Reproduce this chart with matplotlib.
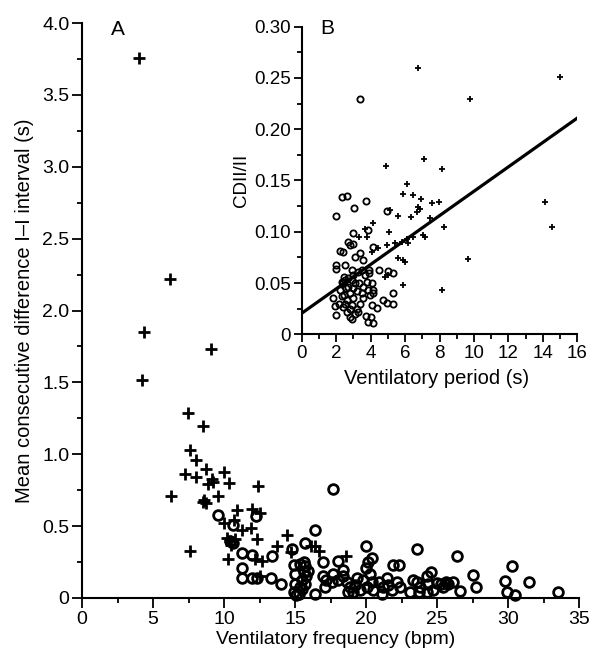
import numpy as np
import matplotlib
matplotlib.use("Agg")
import matplotlib.pyplot as plt
from matplotlib.ticker import MultipleLocator

plt.rcParams["font.family"] = ["Liberation Sans", "DejaVu Sans"]

# panel A: ventilatory frequency (bpm) vs mean consecutive difference (s)
freq_plus = [4.0, 6.2, 4.34, 9.06, 4.2, 7.44, 8.55, 7.58, 8.0, 7.28, 8.03, 8.73,
             10.0, 9.13, 9.22, 8.9, 10.33, 12.42, 6.27, 9.6, 8.55, 8.7, 8.62,
             10.9, 12.0, 12.56, 10.0, 10.7, 11.88, 11.27, 10.19, 10.45, 10.75,
             10.5, 12.35, 14.44, 7.6, 13.7, 14.7, 10.26, 12.2, 12.65, 12.56,
             16.1, 16.4, 16.7, 18.6]
mcd_plus = [3.76, 2.22, 1.85, 1.73, 1.52, 1.29, 1.20, 1.03, 0.96, 0.86, 0.84, 0.90,
            0.88, 0.83, 0.81, 0.79, 0.80, 0.78, 0.71, 0.71, 0.67, 0.66, 0.68,
            0.61, 0.62, 0.59, 0.52, 0.54, 0.49, 0.47, 0.42, 0.40, 0.41,
            0.37, 0.41, 0.44, 0.33, 0.36, 0.32, 0.27, 0.27, 0.26, 0.15,
            0.36, 0.36, 0.33, 0.29]

freq_circ = [9.55, 10.6, 10.4, 10.6, 12.25, 11.3, 12.0, 11.3, 11.3, 12.0, 12.3, 13.3,
             14.0, 13.4, 14.8, 15.7, 16.4, 17.7,
             14.9, 15.0, 15.0, 14.9, 15.1, 15.35, 15.6, 15.7, 15.6, 15.8, 15.5,
             15.35, 15.5, 15.7, 15.9, 15.3, 16.4,
             16.95, 17.0, 17.2, 17.1, 18.0, 17.7, 17.6, 18.05, 18.4, 18.36, 18.64,
             18.87, 18.75, 19.34, 19.2, 19.1, 19.6, 19.8, 20.05, 20.3, 20.4, 20.5,
             20.9, 21.1, 21.2, 21.5, 21.57, 21.8, 22.16, 22.4, 23.1, 23.3, 23.6,
             23.8, 23.7, 24.3, 24.4, 24.7, 25.0, 25.3, 25.6, 25.8, 26.15, 25.45,
             20.0, 20.4, 20.16, 20.0, 21.9, 22.3, 23.6, 26.4, 24.6, 24.3, 27.5,
             27.75, 26.6, 29.8, 30.3, 31.5, 29.9, 30.5, 33.5]
mcd_circ = [0.58, 0.51, 0.40, 0.38, 0.57, 0.31, 0.30, 0.21, 0.14, 0.14, 0.14, 0.14,
            0.10, 0.29, 0.34, 0.38, 0.47, 0.76,
            0.23, 0.17, 0.10, 0.04, 0.02, 0.24, 0.25, 0.22, 0.18, 0.15, 0.125,
            0.08, 0.06, 0.10, 0.19, 0.03, 0.03,
            0.25, 0.15, 0.125, 0.08, 0.26, 0.17, 0.11, 0.125, 0.195, 0.15, 0.11,
            0.08, 0.044, 0.137, 0.09, 0.044, 0.056, 0.125, 0.08, 0.17, 0.11, 0.056,
            0.11, 0.03, 0.08, 0.137, 0.09, 0.056, 0.11, 0.08, 0.044, 0.125, 0.11,
            0.08, 0.044, 0.044, 0.10, 0.056, 0.107, 0.10, 0.113, 0.097, 0.113, 0.08,
            0.36, 0.28, 0.25, 0.21, 0.23, 0.23, 0.34, 0.29, 0.18, 0.15, 0.16,
            0.08, 0.05, 0.12, 0.22, 0.11, 0.04, 0.02, 0.04]

# panel B: ventilatory period (s) vs CDII/II
period_plus = [6.75, 9.77, 15.0, 4.9, 7.1, 8.17, 6.1, 5.9, 6.48, 5.13, 5.61, 6.33,
               6.93, 6.77, 6.87, 6.68, 7.55, 7.99, 7.45, 8.26, 7.03, 7.16, 5.09,
               4.93, 4.45, 5.42, 5.81, 6.1, 6.19, 6.45, 4.16, 3.77, 3.35, 3.68,
               4.06, 5.61, 5.9, 6.0, 4.84, 5.03, 5.9, 8.13, 9.67, 14.13, 14.55]
cdii_plus = [0.26, 0.229, 0.251, 0.164, 0.171, 0.161, 0.147, 0.137, 0.136, 0.121,
             0.115, 0.114, 0.132, 0.124, 0.122, 0.119, 0.128, 0.129, 0.113, 0.105,
             0.097, 0.095, 0.100, 0.087, 0.084, 0.089, 0.090, 0.093, 0.089, 0.095,
             0.109, 0.095, 0.095, 0.103, 0.080, 0.074, 0.072, 0.071, 0.056, 0.058,
             0.048, 0.043, 0.073, 0.129, 0.105]

period_circ = [3.39, 1.99, 2.32, 2.61, 3.05, 3.73, 3.0, 2.71, 2.8, 3.0, 3.83, 2.22,
               2.42, 3.39, 3.1, 3.58, 2.51, 1.99, 1.99, 4.16, 3.93, 3.93, 4.51,
               5.03, 5.32, 4.93, 5.32, 4.74, 4.93, 5.32, 4.06, 4.35, 3.73, 4.0,
               3.87, 4.16, 2.9, 1.99, 1.93, 1.8,
               2.22, 2.42, 2.51, 2.71, 2.8, 2.61, 2.9, 3.1, 3.19, 3.0, 2.9, 3.19,
               3.39, 3.48, 3.58, 3.77, 3.87, 3.97, 4.06, 2.42, 2.61, 3.1, 2.8, 3.29,
               3.58, 2.32, 2.18, 2.46, 4.16, 4.12, 3.29, 3.48, 2.9, 2.46, 2.32,
               2.6, 2.7, 3.0, 3.3, 2.5, 2.8, 3.0, 3.7]
cdii_circ = [0.229, 0.115, 0.134, 0.135, 0.123, 0.130, 0.099, 0.090, 0.087, 0.088,
             0.102, 0.081, 0.080, 0.079, 0.075, 0.072, 0.068, 0.068, 0.064, 0.085,
             0.063, 0.060, 0.063, 0.062, 0.060, 0.120, 0.040, 0.033, 0.031, 0.030,
             0.029, 0.026, 0.018, 0.017, 0.012, 0.011, 0.015, 0.019, 0.028, 0.035,
             0.043, 0.050, 0.053, 0.046, 0.040, 0.033, 0.053, 0.050, 0.042, 0.035,
             0.029, 0.025, 0.030, 0.040, 0.046, 0.051, 0.043, 0.038, 0.050, 0.027,
             0.022, 0.020, 0.017, 0.022, 0.035, 0.037, 0.030, 0.038, 0.043, 0.040,
             0.061, 0.063, 0.063, 0.056, 0.051,
             0.045, 0.055, 0.045, 0.050, 0.030, 0.025, 0.058, 0.058]

# regression line
fit_intercept = 0.0205
fit_slope = 0.0119

freq_ticks = [0, 5, 10, 15, 20, 25, 30, 35]
freq_ticklabels = ["0", "5", "10", "15", "20", "25", "30", "35"]
mcd_ticks = [0, 0.5, 1.0, 1.5, 2.0, 2.5, 3.0, 3.5, 4.0]
mcd_ticklabels = ["0", "0.5", "1.0", "1.5", "2.0", "2.5", "3.0", "3.5", "4.0"]
period_ticks = [0, 2, 4, 6, 8, 10, 12, 14, 16]
period_ticklabels = ["0", "2", "4", "6", "8", "10", "12", "14", "16"]
cdii_ticks = [0, 0.05, 0.10, 0.15, 0.20, 0.25, 0.30]
cdii_ticklabels = ["0", "0.05", "0.10", "0.15", "0.20", "0.25", "0.30"]


def style_axes(ax, labelsize, major_len, minor_len):
    for side in ("top", "right"):
        ax.spines[side].set_visible(False)
    for side in ("left", "bottom"):
        ax.spines[side].set_linewidth(1.5)
    ax.tick_params(which="both", direction="out", width=1.3, pad=2,
                   labelsize=labelsize)
    ax.tick_params(which="major", length=major_len)
    ax.tick_params(which="minor", length=minor_len)


fig = plt.figure(figsize=(5.91, 6.49), dpi=100)

# main panel
ax = fig.add_axes([82 / 591, 51 / 649, 497 / 591, 575 / 649])
ax.plot(freq_plus, mcd_plus, linestyle="none", marker="+", markersize=8,
        markeredgewidth=2.0, color="black", clip_on=False)
ax.plot(freq_circ, mcd_circ, linestyle="none", marker="o", markersize=7,
        markerfacecolor="none", markeredgewidth=2.0, color="black", clip_on=False)
ax.set_xlim(0, 35)
ax.set_ylim(0, 4.0)
ax.set_xticks(freq_ticks, freq_ticklabels)
ax.set_yticks(mcd_ticks, mcd_ticklabels)
ax.xaxis.set_minor_locator(MultipleLocator(2.5))
ax.yaxis.set_minor_locator(MultipleLocator(0.25))
style_axes(ax, 14, 7, 3.5)
ax.set_xlabel("Ventilatory frequency (bpm)", fontsize=14, va="baseline")
ax.xaxis.set_label_coords(0.51, -0.080)
ax.set_ylabel("Mean consecutive difference I\u2013I interval (s)", fontsize=14.5,
              labelpad=6)
ax.text(0.072, 0.988, "A", transform=ax.transAxes, fontsize=15,
        ha="center", va="center")

# inset panel
ax_in = fig.add_axes([301.7 / 591, (649 - 334.3) / 649, 275.6 / 591, 307.6 / 649])
ax_in.patch.set_alpha(0)
ax_in.plot(period_plus, cdii_plus, linestyle="none", marker="+", markersize=5,
           markeredgewidth=1.3, color="black")
ax_in.plot(period_circ, cdii_circ, linestyle="none", marker="o", markersize=4.5,
           markerfacecolor="none", markeredgewidth=1.3, color="black")
ax_in.axline((0, fit_intercept), slope=fit_slope, color="black", linewidth=2.3)
ax_in.set_xlim(0, 16)
ax_in.set_ylim(0, 0.30)
ax_in.set_xticks(period_ticks, period_ticklabels)
ax_in.set_yticks(cdii_ticks, cdii_ticklabels)
ax_in.xaxis.set_minor_locator(MultipleLocator(1))
ax_in.yaxis.set_minor_locator(MultipleLocator(0.025))
style_axes(ax_in, 13.5, 6, 3.5)
ax_in.set_xlabel("Ventilatory period (s)", fontsize=14.5, va="baseline")
ax_in.xaxis.set_label_coords(0.49, -0.1625)
ax_in.set_ylabel("CDII/II", fontsize=13.5, labelpad=3)
ax_in.text(0.092, 0.993, "B", transform=ax_in.transAxes, fontsize=15,
           ha="center", va="center")

fig.savefig("out.png", dpi=100)
